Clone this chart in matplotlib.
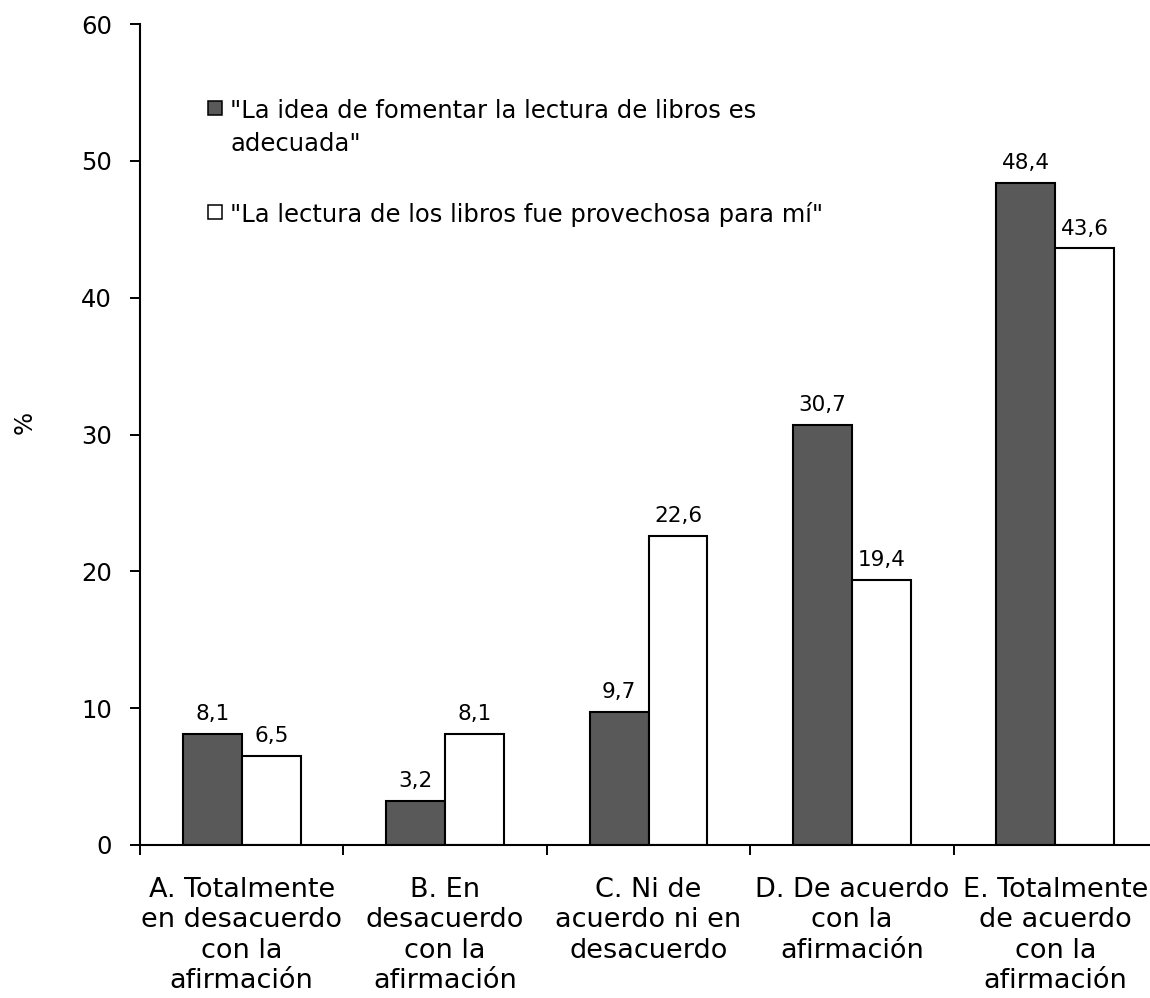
import numpy as np
import matplotlib
matplotlib.use("Agg")
import matplotlib.pyplot as plt

categories = ["A. Totalmente\nen desacuerdo\ncon la\nafirmación",
              "B. En\ndesacuerdo\ncon la\nafirmación",
              "C. Ni de\nacuerdo ni en\ndesacuerdo",
              "D. De acuerdo\ncon la\nafirmación",
              "E. Totalmente\nde acuerdo\ncon la\nafirmación"]
idea = [8.1, 3.2, 9.7, 30.7, 48.4]
lectura = [6.5, 8.1, 22.6, 19.4, 43.6]
label_idea = '"La idea de fomentar la lectura de libros es\nadecuada"'
label_lectura = '"La lectura de los libros fue provechosa para mí"'

plt.rcParams['font.family'] = ['DejaVu Sans']

fig = plt.figure(figsize=(11.5, 9.98), dpi=100)
ax = fig.add_axes([140/1150, 153/998, 1017/1150, 821/998])

x = np.arange(len(categories))
w = 0.29
b1 = ax.bar(x - w/2, idea, w, color='#595959', edgecolor='black', linewidth=1.5)
b2 = ax.bar(x + w/2, lectura, w, color='white', edgecolor='black', linewidth=1.5)

for bars, vals in ((b1, idea), (b2, lectura)):
    for r, v in zip(bars, vals):
        ax.annotate(f"{v:.1f}".replace('.', ','), (r.get_x() + r.get_width()/2, v),
                    xytext=(0, 10), textcoords='offset points',
                    ha='center', va='baseline', fontsize=15.5)

ax.set_xlim(-0.5, 4.5)
ax.set_ylim(0, 60)
ax.set_yticks(range(0, 61, 10))
ax.tick_params(axis='y', labelsize=17.5, length=7.2, width=1.4, pad=13)
ax.set_xticks(x)
ax.set_xticklabels(categories, fontsize=19.5, linespacing=1.22)
ax.tick_params(axis='x', length=0, pad=23)
ax.set_xticks(np.arange(-0.5, 5, 1), minor=True)
ax.tick_params(axis='x', which='minor', length=7.2, width=1.4)
for s in ('top', 'right'):
    ax.spines[s].set_visible(False)
for s in ('left', 'bottom'):
    ax.spines[s].set_linewidth(1.5)
ax.text(-0.113, 0.515, '%', transform=ax.transAxes, rotation=90,
        ha='center', va='center', fontsize=17.5)

# legend drawn by hand so the square sits on the first line
leg_lines = label_idea.split('\n')
ax.plot([0.0737], [0.8977], marker='s', markersize=10, markerfacecolor='#595959',
        markeredgecolor='black', markeredgewidth=1.1, transform=ax.transAxes, clip_on=False)
ax.text(0.0885, 0.8855, leg_lines[0], transform=ax.transAxes, fontsize=17.5,
        va='baseline', ha='left')
ax.text(0.0885, 0.8453, leg_lines[1], transform=ax.transAxes, fontsize=17.5,
        va='baseline', ha='left')
ax.plot([0.0737], [0.771], marker='s', markersize=10, markerfacecolor='white',
        markeredgecolor='black', markeredgewidth=1.1, transform=ax.transAxes, clip_on=False)
ax.text(0.0885, 0.7588, label_lectura, transform=ax.transAxes, fontsize=17.5,
        va='baseline', ha='left')

fig.savefig('out.png', dpi=100)
